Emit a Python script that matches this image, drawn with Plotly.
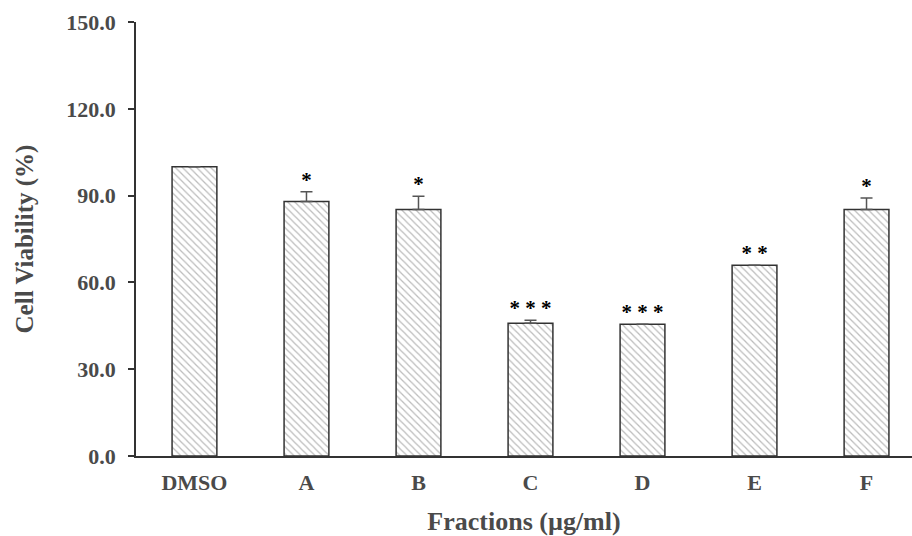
import plotly.graph_objects as go

categories = ["DMSO", "A", "B", "C", "D", "E", "F"]
viability = [100.0, 88.0, 85.2, 45.9, 45.5, 65.9, 85.2]
errors = [0.0, 3.3, 4.6, 1.0, 0.0, 0.0, 4.0]
significance = ["", "*", "*", "***", "***", "**", "*"]
y_ticks = [0, 30, 60, 90, 120, 150]
y_tick_labels = ["0.0", "30.0", "60.0", "90.0", "120.0", "150.0"]

font_family = "Liberation Serif, Times New Roman, serif"
text_color = "#4a4a4a"
line_color = "#333333"

fig = go.Figure()
fig.add_trace(go.Bar(
    x=categories,
    y=viability,
    width=0.4,
    marker=dict(
        color="white",
        line=dict(color=line_color, width=1.5),
        pattern=dict(shape="\\", fgcolor="#7a7a7a", bgcolor="white", size=5, solidity=0.25),
    ),
    error_y=dict(type="data", array=errors, arrayminus=[0] * len(errors),
                 symmetric=False, color="#555555", thickness=1.5, width=6),
    showlegend=False,
))

star_y = [v + e for v, e in zip(viability, errors)]
fig.add_trace(go.Scatter(
    x=categories,
    y=star_y,
    mode="text",
    text=["<b>%s</b>" % " ".join(list(s)) for s in significance],
    textposition="top center",
    textfont=dict(family=font_family, size=21, color="black"),
    showlegend=False,
    cliponaxis=False,
))

fig.update_layout(
    width=912, height=536,
    margin=dict(l=136, r=0, t=22, b=80),
    paper_bgcolor="white", plot_bgcolor="white",
    font=dict(family=font_family, color=text_color),
    xaxis=dict(
        range=[-0.522, 6.406],
        showline=True, linecolor=line_color, linewidth=1.5,
        ticks="", showgrid=False, zeroline=False,
        tickvals=categories, ticktext=["<b>%s</b>" % c for c in categories],
        ticklabelstandoff=6,
        tickfont=dict(family=font_family, size=22, color=text_color),
        title=dict(text="<b>Fractions (µg/ml)</b>", font=dict(family=font_family, size=26, color=text_color), standoff=18),
    ),
    yaxis=dict(
        range=[0, 150],
        showline=True, linecolor=line_color, linewidth=1.5,
        ticks="outside", ticklen=6, tickwidth=1.5, tickcolor=line_color,
        tickvals=y_ticks, ticktext=["<b>%s</b>" % t for t in y_tick_labels],
        ticklabelstandoff=8,
        showgrid=False, zeroline=False,
        tickfont=dict(family=font_family, size=22, color=text_color),
        title=dict(text="<b>Cell Viability (%)</b>", font=dict(family=font_family, size=25, color=text_color), standoff=26),
    ),
)

fig.write_html("out.html")
